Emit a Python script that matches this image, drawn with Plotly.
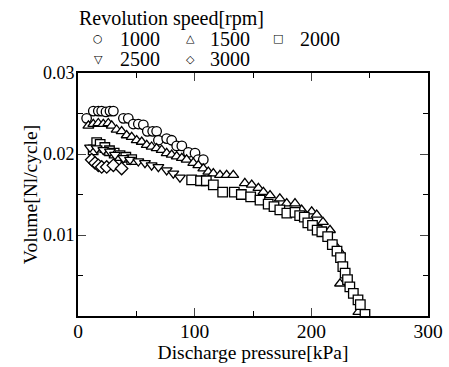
import plotly.graph_objects as go

# Revolution speed 1000 rpm
x1000 = [7.4, 13.1, 17.4, 20.3, 24, 27.4, 30.3, 38.9, 43.1, 47.4, 51.7, 56, 59.4, 64, 67.4, 68.9, 76, 80.3, 84.6, 89, 94.6, 100.3, 103, 107.4]
y1000 = [0.0244, 0.0253, 0.0253, 0.0253, 0.0252, 0.0253, 0.0253, 0.0244, 0.0244, 0.0237, 0.0237, 0.0236, 0.0228, 0.0228, 0.0228, 0.0217, 0.0219, 0.0217, 0.0210, 0.0210, 0.0202, 0.0201, 0.0193, 0.0193]

# 1500 rpm
x1500 = [8.9, 13.1, 17.4, 21.7, 26, 28.9, 33.1, 37.4, 41.7, 46, 50.3, 54.6, 58.9, 63.1, 67.4, 71.7, 76, 80.3, 84.6, 89, 93.1, 98.8, 103.1, 107.4, 111.7, 116, 121.7, 127.4, 133.1, 143, 148.9, 154.6, 158.9, 164.6, 173, 178.9, 186, 191.7, 200.3, 204.6, 210, 216, 220, 224.6, 224.6, 240.3]
y1500 = [0.0235, 0.0237, 0.0238, 0.0237, 0.0238, 0.0235, 0.0230, 0.0228, 0.0223, 0.0221, 0.0217, 0.0215, 0.0211, 0.0209, 0.0207, 0.0205, 0.0201, 0.0199, 0.0197, 0.0195, 0.0193, 0.0189, 0.0186, 0.0182, 0.0178, 0.0176, 0.0174, 0.0174, 0.0174, 0.0164, 0.0162, 0.0158, 0.0153, 0.0149, 0.0145, 0.0139, 0.0139, 0.0131, 0.0129, 0.0125, 0.0116, 0.0106, 0.0088, 0.0079, 0.0040, 0.0005]

# 2000 rpm
x2000 = [13, 16, 19, 23, 27, 31, 36, 41, 46, 97.4, 105, 110, 116, 124, 134, 140, 148, 156, 163, 168, 173, 179, 186, 190, 194, 197, 201, 205, 209, 214, 218, 222, 225, 227, 229, 231, 233, 236, 240, 242, 246]
y2000 = [0.0205, 0.0214, 0.0212, 0.0208, 0.0204, 0.0201, 0.0198, 0.0196, 0.0193, 0.0168, 0.0167, 0.0167, 0.0162, 0.0153, 0.0153, 0.0150, 0.0147, 0.0143, 0.0138, 0.0135, 0.0131, 0.0127, 0.0128, 0.0124, 0.0122, 0.0115, 0.0112, 0.0106, 0.0104, 0.0098, 0.0088, 0.0080, 0.0072, 0.0061, 0.0053, 0.0045, 0.0036, 0.0028, 0.0020, 0.0014, 0.0002]

# 2500 rpm
x2500 = [10.3, 16, 21.7, 27.4, 31.7, 38.9, 44.6, 51.7, 57.4, 63.1, 68.9, 76, 81.7, 87.4]
y2500 = [0.0208, 0.0207, 0.0205, 0.0203, 0.0199, 0.0195, 0.0193, 0.0191, 0.0189, 0.0186, 0.0184, 0.0180, 0.0176, 0.0171]

# 3000 rpm
x3000 = [11.7, 14.6, 17.4, 20.3, 24.6, 30.3, 37.4]
y3000 = [0.0193, 0.0189, 0.0186, 0.0184, 0.0184, 0.0186, 0.0182]

names = ["1000", "1500", "2000", "2500", "3000"]
symbols = ["circle", "triangle-up", "square", "triangle-down", "diamond"]
legend_glyphs = ["○", "△", "□", "▽", "◇"]
legend_title = "Revolution speed[rpm]"
series_x = [x1000, x1500, x2000, x2500, x3000]
series_y = [y1000, y1500, y2000, y2500, y3000]
x_ticks = [0, 100, 200, 300]
y_ticks = [0.01, 0.02, 0.03]
y_ticktext = ["0.01", "0.02", "0.03"]

FONT = "Liberation Serif"
FS = 19.5
fig = go.Figure()
for n, s, xs, ys in zip(names, symbols, series_x, series_y):
    fig.add_trace(go.Scatter(
        x=xs, y=ys, mode="markers", name=n, showlegend=False,
        marker=dict(symbol=s, size=9.5, color="white",
                    line=dict(color="black", width=1.3)),
    ))

# Manual legend (title + 3-column grid of glyph and label)
PL, PW, PT, PH = 78, 350, 73, 243
def px_to_paper(px, py):
    return (px - PL) / PW, (PT + PH - py) / PH

ann = []
tx, ty = px_to_paper(77, 19)
ann.append(dict(text=legend_title, x=tx, y=ty, xref="paper", yref="paper",
                xanchor="left", yanchor="middle", showarrow=False,
                font=dict(family=FONT, size=20, color="black")))
col_sym = [98, 190, 278]
col_txt = [118, 208, 298]
row_y = [39, 59]
for i, (n, g) in enumerate(zip(names, legend_glyphs)):
    r, c = divmod(i, 3)
    sx, sy = px_to_paper(col_sym[c], row_y[r])
    ann.append(dict(text=g, x=sx, y=sy, xref="paper", yref="paper",
                    xanchor="center", yanchor="middle", showarrow=False,
                    font=dict(family="DejaVu Sans", size=11, color="black")))
    lx, ly = px_to_paper(col_txt[c], row_y[r])
    ann.append(dict(text=n, x=lx, y=ly, xref="paper", yref="paper",
                    xanchor="left", yanchor="middle", showarrow=False,
                    font=dict(family=FONT, size=20, color="black")))

fig.update_layout(
    width=449, height=367,
    margin=dict(l=PL, r=449 - PL - PW, t=PT, b=367 - PT - PH),
    paper_bgcolor="white", plot_bgcolor="white",
    font=dict(family=FONT, size=FS, color="black"),
    showlegend=False,
    annotations=ann,
    xaxis=dict(
        range=[0, 300], tickvals=x_ticks, ticks="inside", ticklen=8, tickwidth=1.3,
        showline=True, linecolor="black", linewidth=1.6, mirror="ticks",
        showgrid=False, zeroline=False, automargin=False, ticklabelstandoff=-3,
        minor=dict(tickvals=[50, 150, 250], ticks="inside", ticklen=5, tickcolor="black", tickwidth=1.3),
        title=dict(text="Discharge pressure[kPa]", standoff=1, font=dict(family=FONT, size=FS)),
        tickfont=dict(family=FONT, size=FS),
    ),
    yaxis=dict(
        range=[0, 0.03], tickvals=y_ticks, ticktext=y_ticktext,
        ticks="inside", ticklen=8, tickwidth=1.3,
        showline=True, linecolor="black", linewidth=1.6, mirror="ticks",
        showgrid=False, zeroline=False, automargin=False, ticklabelstandoff=-2,
        minor=dict(tickvals=[0.005, 0.015, 0.025], ticks="inside", ticklen=5, tickcolor="black", tickwidth=1.3),
        title=dict(text="Volume[Nl/cycle]", standoff=0, font=dict(family=FONT, size=FS)),
        tickfont=dict(family=FONT, size=18),
    ),
)
fig.write_html("out.html", config={"displayModeBar": False},
               post_script="document.body.style.margin='0px';")
